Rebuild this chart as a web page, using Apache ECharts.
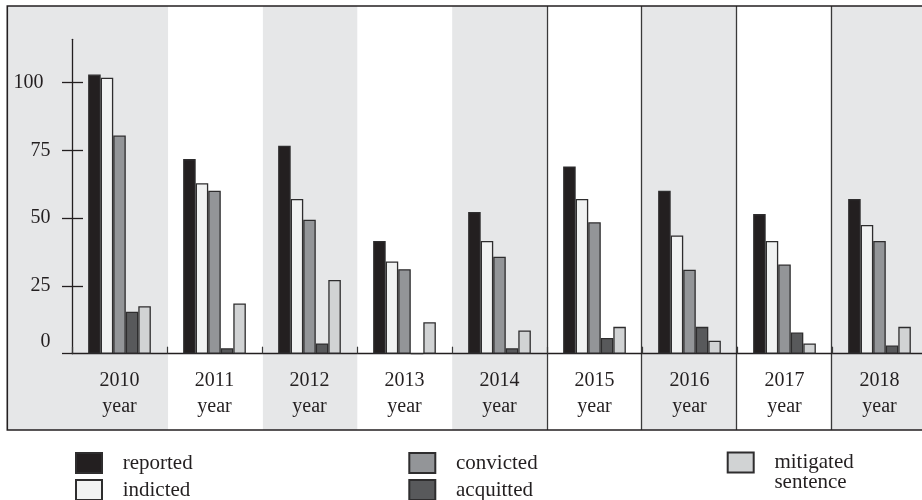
<!DOCTYPE html>
<html>
<head>
<meta charset="utf-8">
<script src="https://cdn.jsdelivr.net/npm/echarts@6/dist/echarts.min.js"></script>
<style>
html,body{margin:0;padding:0;background:#fff;}
#chart{width:922px;height:500px;}
</style>
</head>
<body>
<div id="chart"></div>
<script>
// ---- data ----
const years = ["2010", "2011", "2012", "2013", "2014", "2015", "2016", "2017", "2018"];
const yearSuffix = "year";
const reported  = [103, 71.8, 76.7, 41.6, 52.3, 69.1, 60.1, 51.5, 57.1];
const indicted  = [101.8, 62.9, 57.1, 34, 41.6, 57.1, 43.6, 41.6, 47.5];
const convicted = [80.5, 60.1, 49.4, 31.2, 35.8, 48.5, 31, 32.9, 41.6];
const acquitted = [15.5, 2, 3.8, 0, 2, 5.8, 9.9, 7.8, 3];
const mitigated = [17.5, 18.5, 27.2, 11.6, 8.6, 9.9, 4.8, 3.8, 9.9];
const yTickLabels = [0, 25, 50, 75, 100];
const seriesNames = ["reported", "indicted", "convicted", "acquitted", "mitigated sentence"];

// ---- style ----
const FONT = "Liberation Serif";
const INK = "#231f20";
const EDGE = "#2e2d2e";
const BAND = "#e6e7e8";
const colors = ["#231f20", "#f1f2f2", "#939598", "#58595b", "#d1d3d4"];
const values = [reported, indicted, convicted, acquitted, mitigated];

const chart = echarts.init(document.getElementById('chart'), null, {renderer: 'canvas'});

const legendTextStyle = {fontFamily: FONT, fontSize: 21, color: INK, lineHeight: 20, padding: [0, 0, 0, 15.7]};
const legendPos = [
  {left: 75, top: 452},
  {left: 75, top: 479},
  {left: 408.3, top: 452},
  {left: 408.3, top: 479},
  {left: 726.7, top: 432}
];
const legends = seriesNames.map((name, i) => {
  const lg = {
    orient: 'vertical', padding: 0, itemWidth: 26, itemHeight: 20, itemGap: 7,
    icon: 'rect', selectedMode: false,
    left: legendPos[i].left, top: legendPos[i].top,
    data: [name],
    textStyle: Object.assign({}, legendTextStyle)
  };
  if (i === 4) {
    // first line aligned with the icon, second line below it
    lg.formatter = n => '\n' + n.replace(' ', '\n');
  }
  return lg;
});

const option = {
  animation: false,
  backgroundColor: '#ffffff',
  grid: [
    {left: 72, right: -5, top: 39.3, bottom: 146.3, outerBoundsMode: 'none', containLabel: false},
    {left: 73.6, right: -3.4, top: 6, bottom: 70, outerBoundsMode: 'none', containLabel: false}
  ],
  xAxis: [
    {
      type: 'category', gridIndex: 0, data: years, position: 'bottom',
      axisLine: {lineStyle: {color: INK, width: 1.3}},
      axisTick: {show: true, inside: true, length: 7, lineStyle: {color: '#3a3a3a', width: 1.2}},
      axisLabel: {
        interval: 0, margin: 14, fontFamily: FONT, fontSize: 20, color: INK, lineHeight: 26,
        formatter: v => v + "\n" + yearSuffix
      },
      splitLine: {show: false}
    },
    {
      type: 'category', gridIndex: 1, data: years, position: 'bottom', z: -1,
      axisLine: {show: false}, axisTick: {show: false, interval: 0}, axisLabel: {show: false},
      splitArea: {show: true, interval: 0, areaStyle: {color: [BAND, '#ffffff']}},
      splitLine: {show: true, interval: (i) => i >= 5, lineStyle: {color: '#3a3a3a', width: 1.3}}
    }
  ],
  yAxis: [
    {
      type: 'value', gridIndex: 0, min: 0, max: 116, position: 'left',
      axisLine: {show: true, lineStyle: {color: INK, width: 1.3}},
      axisTick: {show: true, inside: false, length: 10, customValues: yTickLabels, lineStyle: {color: INK, width: 1.3}},
      axisLabel: {
        customValues: yTickLabels, margin: 21.5, fontFamily: FONT, fontSize: 20, color: INK,
        formatter: v => v === 0 ? '{z|0}' : (v === 100 ? '{h|100}' : String(v)),
        rich: {
          z: {fontFamily: FONT, fontSize: 20, color: INK, padding: [0, 0, 24, 0]},
          h: {fontFamily: FONT, fontSize: 20, color: INK, padding: [0, 7, 0, 0]}
        }
      },
      splitLine: {show: false}
    },
    {
      type: 'value', gridIndex: 0, min: 0, max: 116, position: 'left',
      axisLine: {show: false},
      axisTick: {show: true, inside: true, length: 11, customValues: yTickLabels.filter(v => v > 0), lineStyle: {color: INK, width: 1.3}},
      axisLabel: {show: false},
      splitLine: {show: false}
    },
    {type: 'value', gridIndex: 1, show: false, min: 0, max: 1}
  ],
  legend: legends,
  graphic: [
    {type: 'rect', z: -10, shape: {x: 7, y: 6, width: 68, height: 424}, style: {fill: BAND}, silent: true},
    {type: 'rect', z: 50, shape: {x: 7.3, y: 6, width: 940, height: 424}, style: {fill: 'none', stroke: INK, lineWidth: 1.6}, silent: true}
  ],
  series: seriesNames.map((name, i) => ({
    name: name, type: 'bar', xAxisIndex: 0, yAxisIndex: 0,
    data: values[i],
    barGap: '0%', barCategoryGap: '34%',
    itemStyle: {color: colors[i], borderColor: EDGE, borderWidth: 1.3},
    emphasis: {disabled: true}
  }))
};

chart.setOption(option);
</script>
</body>
</html>
